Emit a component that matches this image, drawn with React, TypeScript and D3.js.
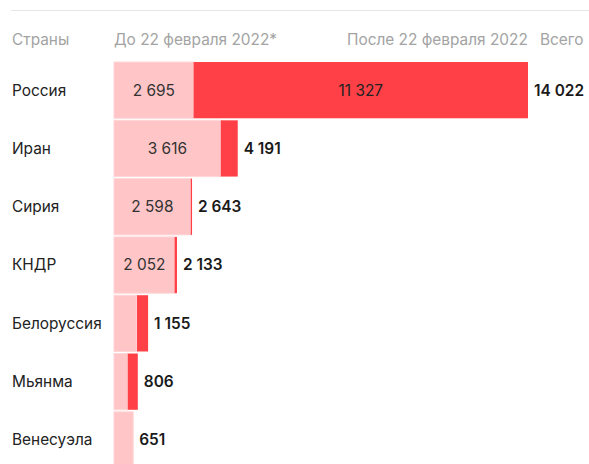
import * as d3 from "d3";
import { useEffect, useRef } from "react";

// countries, values before / after 22 Feb 2022, totals
const countries = ["Россия", "Иран", "Сирия", "КНДР", "Белоруссия", "Мьянма", "Венесуэла"];
const before = [2695, 3616, 2598, 2052, 780, 465, 651];
const after = [11327, 575, 45, 81, 375, 341, 0];
const totals = [14022, 4191, 2643, 2133, 1155, 806, 651];
const headers = ["Страны", "До 22 февраля 2022*", "После 22 февраля 2022", "Всего"];

const fmt = (v: number) => d3.format(",")(v).replace(/,/g, " ");

const W = 589;
const H = 464;

const App = () => {
  const svgRef = useRef<SVGSVGElement>(null);

  useEffect(() => {
    const svg = d3.select(svgRef.current);
    svg.selectAll("*").remove();
    const font = "Inter, 'Noto Sans', sans-serif";
    const fs = 15.4;

    const x = d3.scaleLinear().domain([0, 14022]).range([114, 528]);
    const y = d3
      .scaleBand()
      .domain(countries)
      .range([61, 61 + countries.length * 58.3])
      .paddingInner(0.035)
      .paddingOuter(0.0175);

    // top rule
    svg
      .append("line")
      .attr("x1", 11)
      .attr("x2", W)
      .attr("y1", 10.5)
      .attr("y2", 10.5)
      .attr("stroke", "#e6e6e6");

    // header
    const hx = [12, 114, 347, 540];
    svg
      .selectAll(".hdr")
      .data(headers)
      .join("text")
      .attr("x", (_, i) => hx[i])
      .attr("y", 45)
      .attr("font-family", font)
      .attr("font-size", fs)
      .attr("fill", "#a3a3a3")
      .text((d) => d);

    const rows = svg
      .selectAll(".row")
      .data(countries)
      .join("g")
      .attr("transform", (d) => `translate(0,${y(d)})`);
    const bh = y.bandwidth();

    rows
      .append("rect")
      .attr("x", x(0))
      .attr("width", (_, i) => x(before[i]) - x(0))
      .attr("height", bh)
      .attr("fill", "#ffc5c7")
      .attr("stroke", "#ffd6d7")
      .attr("stroke-width", 1);

    rows
      .append("rect")
      .attr("x", (_, i) => x(before[i]))
      .attr("width", (_, i) => x(before[i] + after[i]) - x(before[i]))
      .attr("height", bh)
      .attr("fill", "#ff4046");

    rows
      .append("text")
      .attr("x", 12)
      .attr("y", bh / 2)
      .attr("dy", "0.35em")
      .attr("font-family", font)
      .attr("font-size", fs)
      .attr("fill", "#222")
      .text((d) => d);

    // values inside bars
    rows
      .filter((_, i) => x(before[i]) - x(0) > 50)
      .append("text")
      .attr("x", (d) => {
        const i = countries.indexOf(d);
        return (x(0) + x(before[i])) / 2;
      })
      .attr("y", bh / 2)
      .attr("dy", "0.35em")
      .attr("text-anchor", "middle")
      .attr("font-family", font)
      .attr("font-size", fs)
      .attr("fill", "#333")
      .text((d) => fmt(before[countries.indexOf(d)]));

    rows
      .filter((_, i) => x(before[i] + after[i]) - x(before[i]) > 50)
      .append("text")
      .attr("x", (d) => {
        const i = countries.indexOf(d);
        return (x(before[i]) + x(before[i] + after[i])) / 2;
      })
      .attr("y", bh / 2)
      .attr("dy", "0.35em")
      .attr("text-anchor", "middle")
      .attr("font-family", font)
      .attr("font-size", fs)
      .attr("fill", "#222")
      .text((d) => fmt(after[countries.indexOf(d)]));

    // totals
    rows
      .append("text")
      .attr("x", (_, i) => x(totals[i]) + 6)
      .attr("y", bh / 2)
      .attr("dy", "0.35em")
      .attr("font-family", font)
      .attr("font-size", fs)
      .attr("font-weight", 600)
      .attr("fill", "#1a1a1a")
      .text((_, i) => fmt(totals[i]));
  }, []);

  return (
    <div style={{ position: "fixed", left: 0, top: 0, background: "#fff" }}>
      <svg ref={svgRef} width={W} height={H} style={{ display: "block" }}></svg>
    </div>
  );
};

export default App;
